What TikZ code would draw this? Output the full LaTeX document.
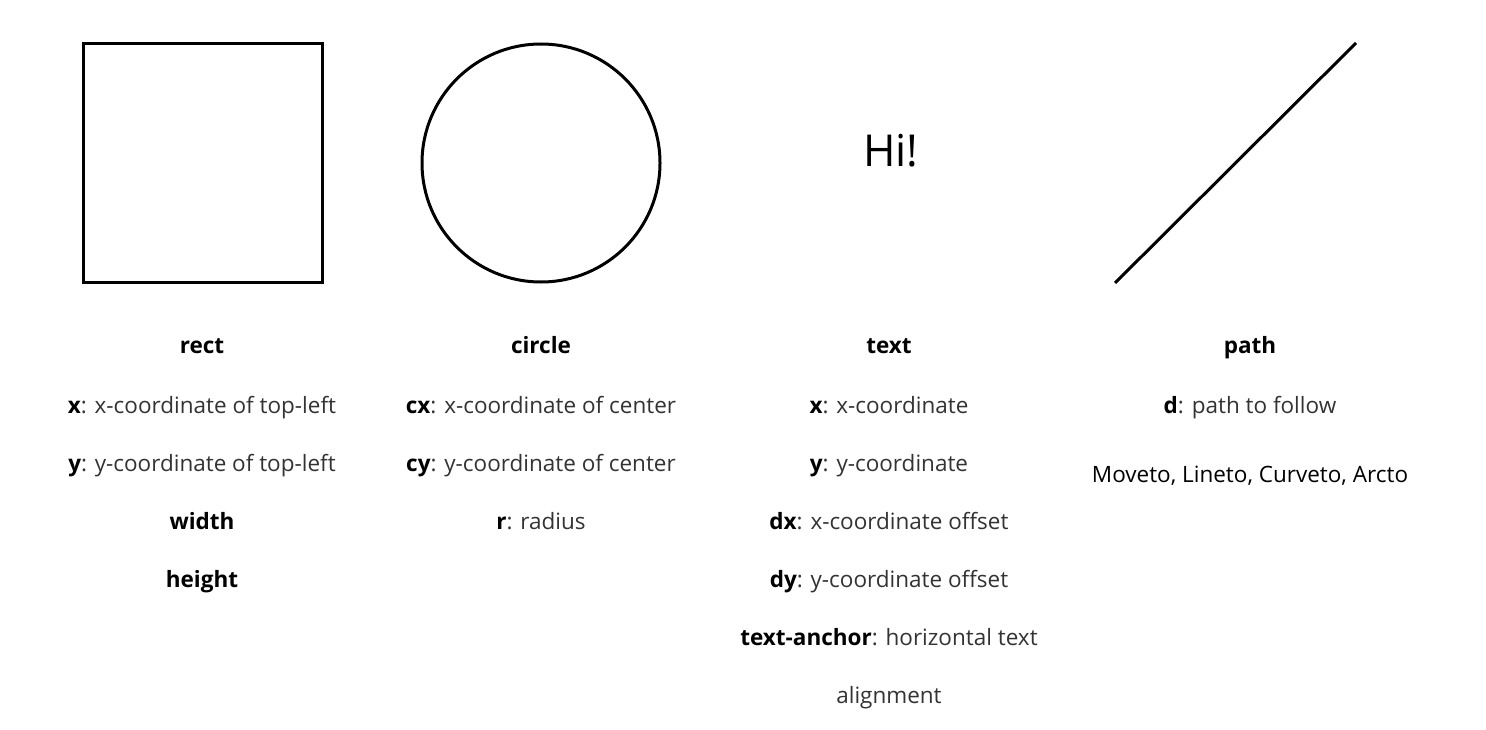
\documentclass[tikz,border=0pt]{standalone}
\usepackage{fontspec}
\setmainfont{Open Sans}
\definecolor{desc}{RGB}{51,51,51}
\begin{document}
\begin{tikzpicture}[x=1pt,y=-1pt,
  shape line/.style={line width=3pt},
  lbl/.style={inner sep=0pt,anchor=base,font=\fontsize{22.5}{26}\selectfont,text=desc},
  ttl/.style={inner sep=0pt,anchor=base,font=\fontsize{22.5}{26}\selectfont\bfseries,text=black}]
\useasboundingbox[fill=white] (0,0) rectangle (1486,730);
% shapes
\draw[shape line] (83,44) rectangle (322,282);
\node[draw,shape line,circle,minimum size=238pt,inner sep=0pt] (circ) at (541,163) {};
\node[inner sep=0pt,anchor=base,font=\fontsize{44}{48}\selectfont] (hi) at (891,167) {Hi!};
\coordinate (p1) at (1115,283);
\coordinate (p2) at (1356,43);
\draw[shape line] (p1) -- (p2);
% rect column
\node[ttl] (r0) at (202,353) {rect};
\node[lbl] (r1) at (202,413) {\textbf{\color{black}x}: x-coordinate of top-left};
\node[lbl] (r2) at (202,471) {\textbf{\color{black}y}: y-coordinate of top-left};
\node[ttl] (r3) at (202,529) {width};
\node[ttl] (r4) at (202,587) {height};
% circle column
\node[ttl] (c0) at (541,353) {circle};
\node[lbl] (c1) at (541,413) {\textbf{\color{black}cx}: x-coordinate of center};
\node[lbl] (c2) at (541,471) {\textbf{\color{black}cy}: y-coordinate of center};
\node[lbl] (c3) at (541,529) {\textbf{\color{black}r}: radius};
% text column
\node[ttl] (t0) at (889,353) {text};
\node[lbl] (t1) at (889,413) {\textbf{\color{black}x}: x-coordinate};
\node[lbl] (t2) at (889,471) {\textbf{\color{black}y}: y-coordinate};
\node[lbl] (t3) at (889,529) {\textbf{\color{black}dx}: x-coordinate offset};
\node[lbl] (t4) at (889,587) {\textbf{\color{black}dy}: y-coordinate offset};
\node[lbl] (t5) at (889,645) {\textbf{\color{black}text-anchor}: horizontal text};
\node[lbl] (t6) at (889,703) {alignment};
% path column
\node[ttl] (p0) at (1250,353) {path};
\node[lbl] (pd) at (1250,413) {\textbf{\color{black}d}: path to follow};
\node[lbl,text=black] (pm) at (1250,482) {Moveto, Lineto, Curveto, Arcto};
\end{tikzpicture}
\end{document}
